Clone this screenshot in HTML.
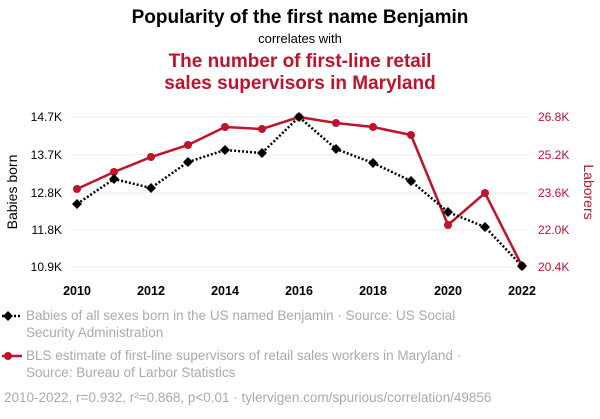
<!DOCTYPE html>
<html><head><meta charset="utf-8"><style>
body{margin:0;background:#fff;width:600px;height:414px;overflow:hidden;font-family:"Liberation Sans",sans-serif}
</style></head><body>
<svg width="600" height="414" xmlns="http://www.w3.org/2000/svg" font-family="Liberation Sans, sans-serif">
<text x="300" y="23" text-anchor="middle" font-size="19" font-weight="bold" fill="#000">Popularity of the first name Benjamin</text>
<text x="300" y="43" text-anchor="middle" font-size="13" fill="#000">correlates with</text>
<text x="300" y="67" text-anchor="middle" font-size="19" font-weight="bold" fill="#c0132b">The number of first-line retail</text>
<text x="300" y="89" text-anchor="middle" font-size="19" font-weight="bold" fill="#c0132b">sales supervisors in Maryland</text>
<g stroke="#eee" stroke-width="1">
<line x1="70" x2="530" y1="117" y2="117"/><line x1="70" x2="530" y1="155" y2="155"/><line x1="70" x2="530" y1="193" y2="193"/><line x1="70" x2="530" y1="230" y2="230"/><line x1="70" x2="530" y1="267" y2="267"/>
</g>
<g font-size="12" fill="#000" text-anchor="end">
<text x="62" y="121">14.7K</text><text x="62" y="159">13.7K</text><text x="62" y="197">12.8K</text><text x="62" y="234">11.8K</text><text x="62" y="271">10.9K</text>
</g>
<g font-size="12" fill="#c0132b">
<text x="538" y="121">26.8K</text><text x="538" y="159">25.2K</text><text x="538" y="197">23.6K</text><text x="538" y="234">22.0K</text><text x="538" y="271">20.4K</text>
</g>
<text transform="translate(17,192) rotate(-90)" text-anchor="middle" font-size="14" fill="#000">Babies born</text>
<text transform="translate(584,192) rotate(90)" text-anchor="middle" font-size="14" fill="#c0132b">Laborers</text>
<g font-size="12.5" font-weight="bold" fill="#000" text-anchor="middle">
<text x="77" y="295">2010</text><text x="151" y="295">2012</text><text x="225" y="295">2014</text><text x="299" y="295">2016</text><text x="373" y="295">2018</text><text x="448" y="295">2020</text><text x="522" y="295">2022</text>
</g>
<polyline fill="none" stroke="#c0132b" stroke-width="2.5" points="77,189 114,172 151,157 188,145 225,127 262,129 299,117 336,123 373,127 411,135 448,225 485,193 522,266"/>
<g fill="#c0132b">
<circle cx="77" cy="189" r="4"/><circle cx="114" cy="172" r="4"/><circle cx="151" cy="157" r="4"/><circle cx="188" cy="145" r="4"/><circle cx="225" cy="127" r="4"/><circle cx="262" cy="129" r="4"/><circle cx="299" cy="117" r="4"/><circle cx="336" cy="123" r="4"/><circle cx="373" cy="127" r="4"/><circle cx="411" cy="135" r="4"/><circle cx="448" cy="225" r="4"/><circle cx="485" cy="193" r="4"/><circle cx="522" cy="266" r="4"/>
</g>
<polyline fill="none" stroke="#000" stroke-width="2.5" stroke-dasharray="2,2" points="77,204 114,179 151,188 188,162 225,150 262,153 299,117 336,149 373,163 411,181 448,212 485,227 522,266"/>
<g fill="#000">
<path d="M77 199l5 5-5 5-5-5z"/><path d="M114 174l5 5-5 5-5-5z"/><path d="M151 183l5 5-5 5-5-5z"/><path d="M188 157l5 5-5 5-5-5z"/><path d="M225 145l5 5-5 5-5-5z"/><path d="M262 148l5 5-5 5-5-5z"/><path d="M299 112l5 5-5 5-5-5z"/><path d="M336 144l5 5-5 5-5-5z"/><path d="M373 158l5 5-5 5-5-5z"/><path d="M411 176l5 5-5 5-5-5z"/><path d="M448 207l5 5-5 5-5-5z"/><path d="M485 222l5 5-5 5-5-5z"/><path d="M522 261l5 5-5 5-5-5z"/>
</g>
<line x1="2" x2="22" y1="316" y2="316" stroke="#000" stroke-width="2.5" stroke-dasharray="2,2"/>
<path d="M8 311l5 5-5 5-5-5z" fill="#000"/>
<text x="26" y="320" font-size="13.5" fill="#aaa">Babies of all sexes born in the US named Benjamin · Source: US Social</text>
<text x="26" y="337" font-size="13.5" fill="#aaa">Security Administration</text>
<line x1="2" x2="22" y1="356" y2="356" stroke="#c0132b" stroke-width="2.5"/>
<circle cx="8" cy="356" r="4" fill="#c0132b"/>
<text x="26" y="360" font-size="13.5" fill="#aaa">BLS estimate of first-line supervisors of retail sales workers in Maryland ·</text>
<text x="26" y="377" font-size="13.5" fill="#aaa">Source: Bureau of Larbor Statistics</text>
<text x="4" y="402" font-size="13.5" fill="#aaa">2010-2022, r=0.932, r²=0.868, p&lt;0.01 · tylervigen.com/spurious/correlation/49856</text>
</svg>
</body></html>
